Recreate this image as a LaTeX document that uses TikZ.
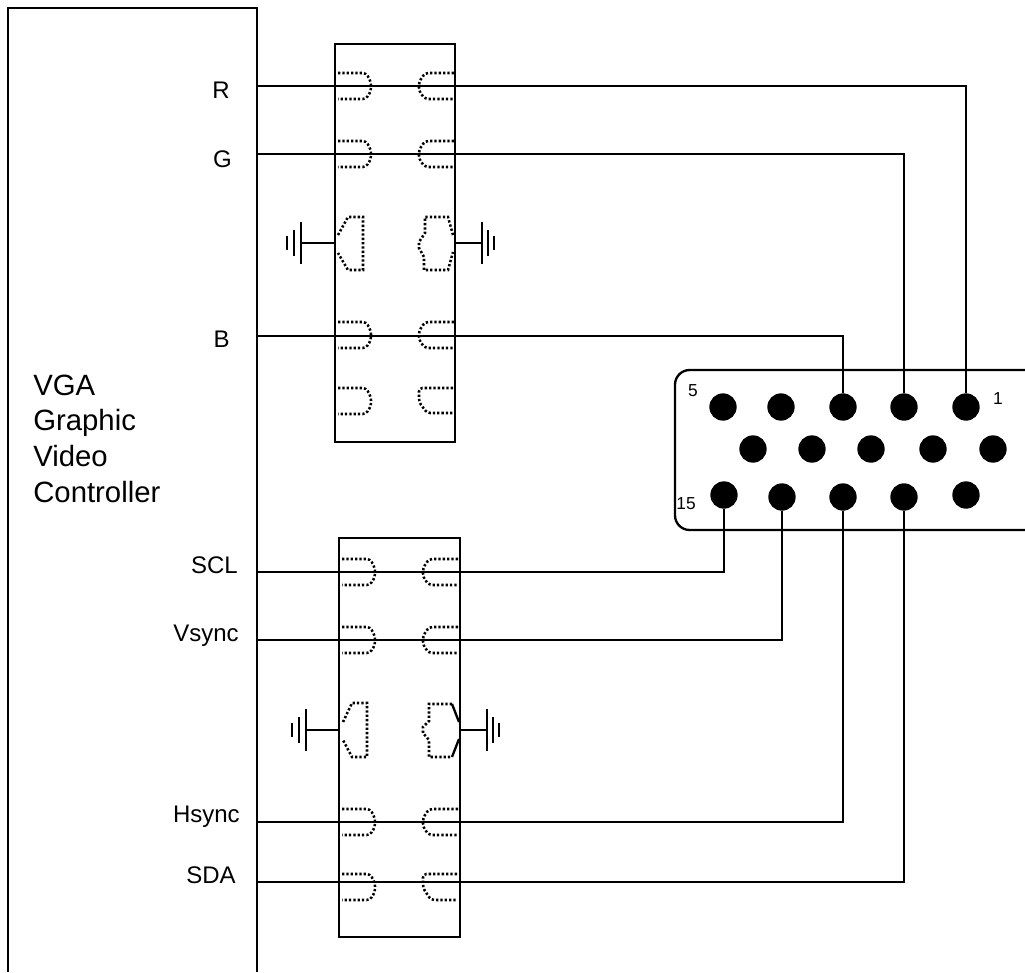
\documentclass[tikz,border=0pt]{standalone}
\usepackage{fontspec}
\setmainfont{Liberation Sans}
\tikzset{
	wire/.style={line width=1.75pt},
	contact/.style={line width=1.9pt, dash pattern=on 1.7pt off 1.55pt},
	vgapin/.style={circle, fill=black, inner sep=0pt, minimum size=20.5pt},
	shellbox/.style={draw, line width=1.75pt, inner sep=0pt, minimum width=90pt},
	siglabel/.style={font=\fontsize{18}{18}\selectfont, anchor=base east, inner sep=0pt},
	pinlabel/.style={font=\fontsize{13}{13}\selectfont, anchor=base, inner sep=0pt},
	ctrllabel/.style={font=\fontsize{22}{22}\selectfont, anchor=base west, inner sep=0pt}
}
\newcommand{\malepair}[2]{
	\draw[contact, rounded corners=2.5pt] (#1,#2-13) -- (#1+28,#2-13) -- (#1+33,#2-4) -- (#1+33,#2+5) -- (#1+28,#2+13) -- (#1,#2+13);
}
\newcommand{\femalepair}[2]{
	\draw[contact, rounded corners=2.5pt] (#1,#2-13) -- (#1-29,#2-13) -- (#1-35,#2-4) -- (#1-35,#2+5) -- (#1-29,#2+13) -- (#1,#2+13);
}
\newcommand{\earthleft}[2]{
	\draw[wire] (#1,#2-21) -- (#1,#2+21);
	\draw[wire] (#1-7,#2-13) -- (#1-7,#2+13);
	\draw[wire] (#1-14,#2-7) -- (#1-14,#2+7);
}
\newcommand{\earthright}[2]{
	\draw[wire] (#1,#2-21) -- (#1,#2+21);
	\draw[wire] (#1+6,#2-13) -- (#1+6,#2+13);
	\draw[wire] (#1+12,#2-7) -- (#1+12,#2+7);
}
\begin{document}
\begin{tikzpicture}[x=0.75pt, y=-0.75pt]
	\useasboundingbox (0,0) rectangle (1025,972);

	\draw[wire] (8,972) -- (8,8) -- (257,8) -- (257,972);
	\node[ctrllabel] (vga) at (33,395) {VGA};
	\node[ctrllabel] (graphic) at (33,430) {Graphic};
	\node[ctrllabel] (video) at (33,466) {Video};
	\node[ctrllabel] (controller) at (33,502) {Controller};

	\node[shellbox, minimum height=298.5pt] (boxone) at (395,243) {};
	\node[shellbox, minimum height=299.25pt, minimum width=90.75pt] (boxtwo) at (399.5,737.5) {};

	\draw[wire, rounded corners=11pt] (1032,370) -- (675,370) -- (675,530) -- (1032,530);
	\foreach \px/\name in {723/p5, 781/p4, 843/p3, 904/p2, 966/p1}
		\node[vgapin] (\name) at (\px,407) {};
	\foreach \px/\name in {753/p10, 812/p9, 871/p8, 933/p7, 993/p6}
		\node[vgapin] (\name) at (\px,449) {};
	\node[vgapin] (p15) at (724,495) {};
	\node[vgapin] (p14) at (782,497) {};
	\node[vgapin] (p13) at (843,497) {};
	\node[vgapin] (p12) at (904,497) {};
	\node[vgapin] (p11) at (966,495) {};
	\node[pinlabel] (five) at (693,396) {5};
	\node[pinlabel] (one) at (998,404) {1};
	\node[pinlabel] (fifteen) at (686,509) {15};

	\coordinate (rstart) at (257,86);
	\coordinate (gstart) at (257,154);
	\coordinate (bstart) at (257,336);
	\coordinate (sclstart) at (257,572);
	\coordinate (vstart) at (257,640);
	\coordinate (hstart) at (257,822);
	\coordinate (sdastart) at (257,882);
	\draw[wire] (rstart) -| (p1);
	\draw[wire] (gstart) -| (p2);
	\draw[wire] (bstart) -| (p3);
	\draw[wire] (sclstart) -| (p15);
	\draw[wire] (vstart) -| (p14);
	\draw[wire] (hstart) -| (p13);
	\draw[wire] (sdastart) -| (p12);

	\node[siglabel] (rlabel) at (230,98) {R};
	\node[siglabel] (glabel) at (232,167) {G};
	\node[siglabel] (blabel) at (230,347) {B};
	\node[siglabel] (scllabel) at (238,573) {SCL};
	\node[siglabel] (vlabel) at (239,641) {Vsync};
	\node[siglabel] (hlabel) at (240,822) {Hsync};
	\node[siglabel] (sdalabel) at (236,883) {SDA};

	\malepair{338}{86}
	\malepair{338}{154}
	\malepair{338}{335}
	\malepair{338}{401}
	\femalepair{454}{86}
	\femalepair{454}{154}
	\femalepair{454}{335}
	\draw[contact, rounded corners=2.5pt] (453,388) -- (419,388) -- (419,402) -- (427,413) -- (453,413);

	\malepair{342}{572}
	\malepair{342}{640}
	\malepair{342}{822}
	\malepair{342}{887}
	\femalepair{458}{572}
	\femalepair{458}{640}
	\femalepair{458}{822}
	\draw[contact, rounded corners=2.5pt] (457,874) -- (423,874) -- (423,888) -- (431,900) -- (457,900);

	\draw[contact] (338,235) -- (348,217) -- (363,217) -- (363,270) -- (348,270) -- (338,253);
	\draw[contact] (453,235) -- (448,217) -- (425,217) -- (425,233) -- (419,242) -- (419,248) -- (424,257) -- (424,270) -- (448,270) -- (453,252);
	\draw[contact] (343,722) -- (352,703) -- (367,703) -- (367,757) -- (352,757) -- (343,740);
	\draw[contact] (452,704) -- (429,704) -- (429,721) -- (423,727) -- (423,733) -- (429,740) -- (429,757) -- (452,757);
	\draw[wire] (452,704) -- (459,722);
	\draw[wire] (459,739) -- (452,757);

	\coordinate (earthA) at (301,243);
	\coordinate (earthB) at (482,243);
	\coordinate (earthC) at (306,730);
	\coordinate (earthD) at (487,730);
	\draw[wire] (boxone.west) -- (earthA);
	\draw[wire] (boxone.east) -- (earthB);
	\draw[wire] (boxtwo.west |- earthC) -- (earthC);
	\draw[wire] (boxtwo.east |- earthD) -- (earthD);
	\earthleft{301}{243}
	\earthright{482}{243}
	\earthleft{306}{730}
	\earthright{487}{730}
\end{tikzpicture}
\end{document}
